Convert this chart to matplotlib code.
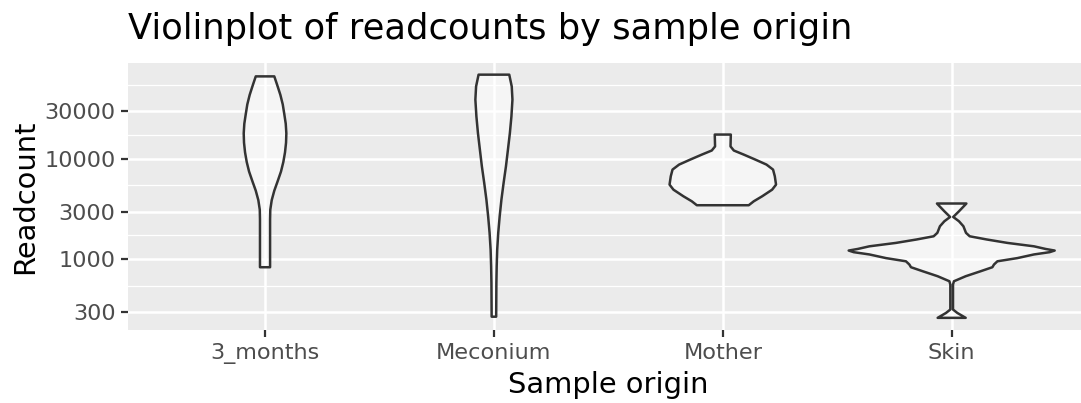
import numpy as np
import matplotlib
matplotlib.use("Agg")
import matplotlib.pyplot as plt
from matplotlib.ticker import FixedLocator, FixedFormatter, NullFormatter

# ---------------- data ----------------
categories = ["3_months", "Meconium", "Mother", "Skin"]

# violin outlines: readcount levels (top -> bottom) and relative density (max = 1)
months_readcount = [67000, 54600, 43800, 35200, 28200, 22600, 18100, 14600, 11700,
                    9400, 7530, 6040, 4850, 3900, 3130, 2510, 1520, 835]
months_density = [0.090, 0.119, 0.149, 0.172, 0.187, 0.201, 0.207, 0.204, 0.194,
                  0.178, 0.155, 0.123, 0.090, 0.065, 0.051, 0.049, 0.049, 0.049]

meconium_readcount = [69700, 53200, 39300, 26700, 18200, 12400, 8490, 5780, 3950,
                      2690, 1840, 1250, 855, 582, 268]
meconium_density = [0.149, 0.173, 0.180, 0.170, 0.155, 0.136, 0.117, 0.094, 0.073,
                    0.056, 0.042, 0.032, 0.027, 0.024, 0.022]

mother_readcount = [17600, 13400, 12200, 11100, 9890, 8830, 7870, 6750, 5570,
                    4960, 4260, 3800, 3470]
mother_density = [0.078, 0.075, 0.107, 0.204, 0.317, 0.424, 0.488, 0.505, 0.517,
                  0.479, 0.382, 0.301, 0.252]

skin_readcount = [3610, 3020, 2650, 2400, 2140, 1990, 1840, 1700, 1580, 1460, 1350,
                  1270, 1225, 1180, 1120, 1030, 957, 889, 835, 762, 679, 605, 561,
                  316, 292, 261]
skin_density = [0.143, 0.071, 0.015, 0.071, 0.114, 0.126, 0.139, 0.175, 0.340, 0.541,
                0.799, 0.913, 1.000, 0.951, 0.799, 0.638, 0.444, 0.411, 0.395, 0.282,
                0.136, 0.022, 0.013, 0.013, 0.055, 0.136]

y_breaks = [300, 1000, 3000, 10000, 30000]
y_break_labels = ["300", "1000", "3000", "10000", "30000"]

title = "Violinplot of readcounts by sample origin"
x_title = "Sample origin"
y_title = "Readcount"

series = [(months_readcount, months_density),
          (meconium_readcount, meconium_density),
          (mother_readcount, mother_density),
          (skin_readcount, skin_density)]

# ---------------- figure ----------------
W, H = 1081, 403
fig = plt.figure(figsize=(W / 100, H / 100), dpi=100)
p_left, p_right, p_top, p_bottom = 127.7, 1089.0, 62.5, 330.0
ax = fig.add_axes([p_left / W, 1 - p_bottom / H, (p_right - p_left) / W,
                   (p_bottom - p_top) / H])
ax.set_facecolor("#EBEBEB")
for s in ax.spines.values():
    s.set_visible(False)

max_half = 0.45
for i, (rc, dens) in enumerate(series):
    pos = i + 1
    rc = np.asarray(rc, dtype=float)
    d = np.asarray(dens, dtype=float) * max_half
    xs = np.concatenate([pos + d, (pos - d)[::-1]])
    ys = np.concatenate([rc, rc[::-1]])
    ax.fill(xs, ys, facecolor=(1, 1, 1, 0.5), edgecolor="#333333",
            linewidth=1.8, joinstyle="round", zorder=3)

ax.set_yscale("log")
all_rc = np.concatenate([np.asarray(s[0], float) for s in series])
lo, hi = np.log10(all_rc.min()), np.log10(all_rc.max())
ex = 0.05 * (hi - lo)
ax.set_ylim(10 ** (lo - ex), 10 ** (hi + ex))
ax.set_xlim(0.4, 4.6)

ax.yaxis.set_major_locator(FixedLocator(y_breaks))
ax.yaxis.set_major_formatter(FixedFormatter(y_break_labels))
ext_breaks = [100] + y_breaks + [100000]
minor = [np.sqrt(a * b) for a, b in zip(ext_breaks[:-1], ext_breaks[1:])]
ax.yaxis.set_minor_locator(FixedLocator(minor))
ax.yaxis.set_minor_formatter(NullFormatter())

ax.set_xticks(range(1, len(categories) + 1))
ax.set_xticklabels(categories)

ax.grid(True, which="major", color="white", linewidth=1.8, zorder=0)
ax.grid(True, which="minor", axis="y", color="white", linewidth=0.9, zorder=0)
ax.set_axisbelow(True)

ax.tick_params(axis="both", which="major", length=4.8, width=1.6, color="#333333",
               labelsize=16.1, labelcolor="#4D4D4D")
ax.tick_params(axis="x", which="major", pad=4.4)
ax.tick_params(axis="y", which="major", pad=4.0)
ax.tick_params(which="minor", length=0)

ax.set_xlabel(x_title, fontsize=20.8, color="black", labelpad=5.0)
ax.set_ylabel(y_title, fontsize=20.8, color="black", labelpad=3.5)

fig.text(p_left / W, 1 - 39.5 / H, title, fontsize=25.4, color="black",
         ha="left", va="baseline")

fig.savefig("out.png", dpi=100)
